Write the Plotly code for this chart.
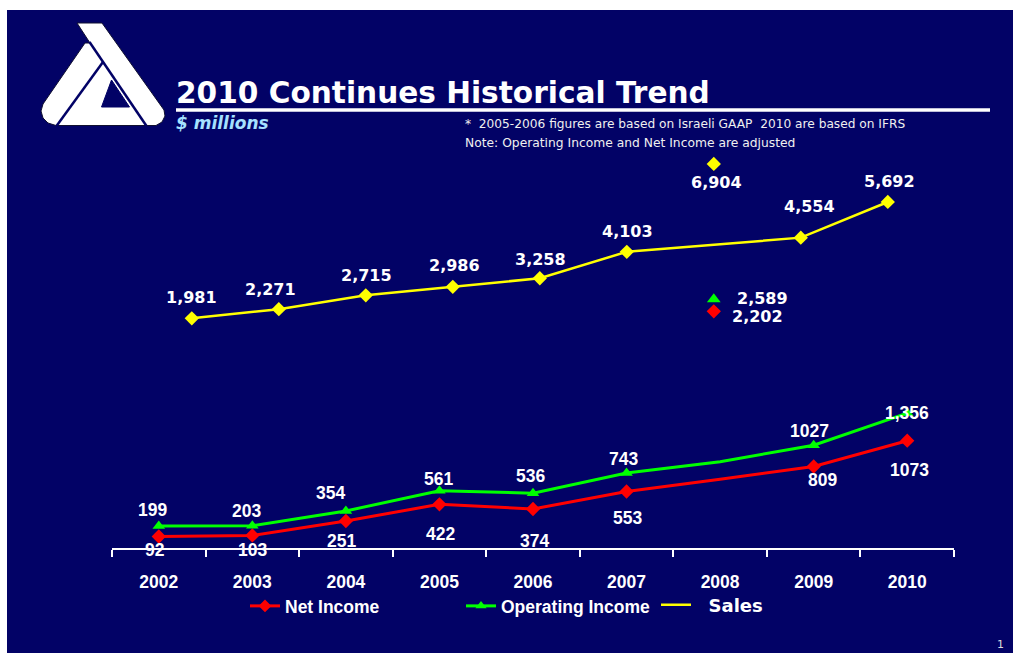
import plotly.graph_objects as go

W, H = 1013, 653

# ---------------- data ----------------
years = [2002, 2003, 2004, 2005, 2006, 2007, 2008, 2009, 2010]
year_labels = ["2002", "2003", "2004", "2005", "2006", "2007", "2008", "2009", "2010"]
sales = [1981, 2271, 2715, 2986, 3258, 4103, None, 4554, 5692]
operating_income = [199, 203, 354, 561, 536, 743, 858, 1027, 1356]
net_income = [92, 103, 251, 422, 374, 553, 678, 809, 1073]

# 2008 reported figures shown as standalone points (sales scale)
year_2008 = [2008]
sales_2008 = [6904]
operating_income_2008 = [2589]
net_income_2008 = [2202]

sales_labels = ["1,981", "2,271", "2,715", "2,986", "3,258", "4,103", "", "4,554", "5,692"]
op_labels = ["199", "203", "354", "561", "536", "743", "", "1027", "1,356"]
net_labels = ["92", "103", "251", "422", "374", "553", "", "809", "1073"]
sales_2008_labels = ["6,904"]
op_2008_labels = ["2,589"]
net_2008_labels = ["2,202"]

# ---------------- styles ----------------
NAVY = "#020266"
YELLOW = "#FFFF00"
GREEN = "#00FF00"
RED = "#FF0000"
NARROW = "Liberation Sans Narrow, Arial Narrow, Liberation Sans, Arial, sans-serif"
WIDE = "DejaVu Sans, Verdana, sans-serif"
NARROW_SIZE = 17.5

# label offsets (px) relative to their point: (dx, dy up)
sales_shift = [(0, 21), (-8, 20), (1, 20), (2, 21), (1, 19), (1, 20), (0, 0), (9, 31), (2, 20)]
op_shift = [(-6, 16), (-6, 15), (-15, 18), (-1, 12), (-3, 17), (-3, 14), (0, 0), (-4, 14), (0, 0)]
net_shift = [(-4, -13), (0, -15), (-4, -20), (1, -30), (1, -32), (1, -26), (0, 0), (9, -13), (2, -29)]
hidden_year = 2008
inc_marker_size = [0 if y == hidden_year else 11 for y in years]


def px(x):
    return x / W


def py(y):
    return 1 - y / H


# axis geometry (pixels)
X_LEFT, X_RIGHT = 112, 954
Y_TOP, Y_BOT = 150, 548
x_dom = [px(X_LEFT), px(X_RIGHT)]
y_dom = [py(Y_BOT), py(Y_TOP)]

fig = go.Figure()

# income series (primary axes)
fig.add_trace(go.Scatter(
    x=years, y=net_income, name="Net Income", mode="lines+markers",
    line=dict(color=RED, width=3),
    marker=dict(symbol="diamond", size=inc_marker_size, color=RED, opacity=1, line=dict(width=0)),
    xaxis="x", yaxis="y", legend="legend", hoverinfo="x+y"))
fig.add_trace(go.Scatter(
    x=years, y=operating_income, name="Operating Income", mode="lines+markers",
    line=dict(color=GREEN, width=3),
    marker=dict(symbol="triangle-up", size=inc_marker_size, color=GREEN, opacity=1, line=dict(width=0)),
    xaxis="x", yaxis="y", legend="legend2", hoverinfo="x+y"))

# sales series (secondary axes)
fig.add_trace(go.Scatter(
    x=years, y=sales, name="<span style='font-family:DejaVu Sans'>&nbsp;&nbsp;Sales</span>", mode="lines",
    connectgaps=True, line=dict(color=YELLOW, width=2.5),
    xaxis="x2", yaxis="y2", legend="legend3", hoverinfo="x+y"))
fig.add_trace(go.Scatter(
    x=years, y=sales, mode="markers", showlegend=False,
    marker=dict(symbol="diamond", size=11, color=YELLOW, line=dict(width=0)),
    xaxis="x2", yaxis="y2", hoverinfo="x+y"))
fig.add_trace(go.Scatter(
    x=year_2008, y=sales_2008, mode="markers", showlegend=False,
    marker=dict(symbol="diamond", size=11, color=YELLOW, line=dict(width=0)), xaxis="x2", yaxis="y2"))
fig.add_trace(go.Scatter(
    x=year_2008, y=operating_income_2008, mode="markers", showlegend=False,
    marker=dict(symbol="triangle-up", size=12, color=GREEN, line=dict(width=0)), xaxis="x2", yaxis="y2"))
fig.add_trace(go.Scatter(
    x=year_2008, y=net_income_2008, mode="markers", showlegend=False,
    marker=dict(symbol="diamond", size=11, color=RED, line=dict(width=0)), xaxis="x2", yaxis="y2"))

annotations = []


def lab(x, y, text, dx, dy, xref, yref, font):
    annotations.append(dict(x=x, y=y, xref=xref, yref=yref, text=text, showarrow=False,
                            xshift=dx, yshift=dy, xanchor="center", yanchor="middle", font=font))


sales_font = dict(family=WIDE, size=16, color="white", weight="bold")
inc_font = dict(family=NARROW, size=NARROW_SIZE, color="white", weight="bold")

for x, v, t, (dx, dy) in zip(years, sales, sales_labels, sales_shift):
    if v is not None and t:
        lab(x, v, t, dx, dy, "x2", "y2", sales_font)
for x, v, t, (dx, dy) in zip(years, operating_income, op_labels, op_shift):
    if t:
        lab(x, v, t, dx, dy, "x", "y", inc_font)
for x, v, t, (dx, dy) in zip(years, net_income, net_labels, net_shift):
    if t:
        lab(x, v, t, dx, dy, "x", "y", inc_font)
lab(year_2008[0], sales_2008[0], sales_2008_labels[0], 3, -19, "x2", "y2", sales_font)
lab(year_2008[0], operating_income_2008[0], op_2008_labels[0], 49, 1, "x2", "y2", sales_font)
lab(year_2008[0], net_income_2008[0], net_2008_labels[0], 44, -5, "x2", "y2", sales_font)

# slide texts
annotations += [
    dict(x=px(174), y=py(93), xref="paper", yref="paper", text="<b>2010 Continues Historical Trend</b>",
         showarrow=False, xanchor="left", yanchor="middle", font=dict(family=WIDE, size=29.6, color="white")),
    dict(x=px(174), y=py(123), xref="paper", yref="paper", text="<b><i>$ millions</i></b>",
         showarrow=False, xanchor="left", yanchor="middle", font=dict(family=WIDE, size=17, color="#a6e1ff")),
    dict(x=px(463), y=py(124), xref="paper", yref="paper",
         text="*  2005-2006 figures are based on Israeli GAAP  2010 are based on IFRS",
         showarrow=False, xanchor="left", yanchor="middle", font=dict(family=WIDE, size=12.2, color="#f0f0f0")),
    dict(x=px(463), y=py(143), xref="paper", yref="paper",
         text="Note: Operating Income and Net Income are adjusted",
         showarrow=False, xanchor="left", yanchor="middle", font=dict(family=WIDE, size=12.3, color="#f0f0f0")),
    dict(x=px(1000), y=py(644), xref="paper", yref="paper", text="1",
         showarrow=False, xanchor="center", yanchor="middle", font=dict(family=WIDE, size=11, color="#dddddd")),
]


def path(points):
    return "M " + " L ".join(f"{px(a)},{py(b)}" for a, b in points) + " Z"


logo_outline = [(77, 23), (102, 23), (164, 110), (165, 116), (162, 122), (156, 125.5),
                (56, 125.5), (48, 123), (43, 118), (41, 111), (43, 104), (85, 43), (90, 43)]
logo_hole = [(111.5, 80), (101.5, 107), (129.5, 107)]

shapes = [
    dict(type="rect", xref="paper", yref="paper", x0=px(7), x1=1, y0=0, y1=py(10),
         fillcolor=NAVY, line=dict(width=0), layer="below"),
    dict(type="line", xref="paper", yref="paper", x0=px(176), x1=px(990), y0=py(110), y1=py(110),
         line=dict(color="white", width=3.5)),
    dict(type="path", xref="paper", yref="paper", path=path(logo_outline),
         fillcolor="white", line=dict(color="#101030", width=1)),
    dict(type="line", xref="paper", yref="paper", x0=px(89.5), y0=py(42), x1=px(146.5), y1=py(126),
         line=dict(color=NAVY, width=2.5)),
    dict(type="line", xref="paper", yref="paper", x0=px(103), y0=py(62), x1=px(56.5), y1=py(126),
         line=dict(color=NAVY, width=2.5)),
    dict(type="path", xref="paper", yref="paper", path=path(logo_hole),
         fillcolor=NAVY, line=dict(color=NAVY, width=1)),
]

# axes ranges derived from pixel geometry
inc_per_px = 10.24
inc_zero_px = 545.5
sales_per_px = 31.9
sales_zero_px = 380.4
s_px_per_year = 87.0
s_2002_px = 191.8

legend_common = dict(orientation="h", bgcolor="rgba(0,0,0,0)", borderwidth=0,
                     xanchor="left", yanchor="middle", itemwidth=30, itemclick=False)

fig.update_layout(
    width=W, height=H,
    margin=dict(l=0, r=0, t=0, b=0),
    paper_bgcolor="white", plot_bgcolor="rgba(0,0,0,0)",
    showlegend=True,
    xaxis=dict(domain=x_dom, range=[2001.5, 2010.5], anchor="y",
               tickmode="array", tickvals=years, ticktext=year_labels, ticks="",
               tickfont=dict(family=NARROW, size=NARROW_SIZE, color="white", weight="bold"),
               ticklabelstandoff=17,
               showline=True, linecolor="white", linewidth=1.5, showgrid=False, zeroline=False,
               minor=dict(tickmode="array", tickvals=[y - 0.5 for y in years] + [years[-1] + 0.5],
                          ticks="outside", ticklen=7, tickwidth=1.5, tickcolor="white", showgrid=False)),
    yaxis=dict(domain=y_dom, anchor="x",
               range=[-(Y_BOT - inc_zero_px) * inc_per_px, (inc_zero_px - Y_TOP) * inc_per_px],
               showgrid=False, zeroline=False, showticklabels=False, showline=False, ticks=""),
    xaxis2=dict(domain=x_dom, overlaying="x", anchor="y2",
                range=[2002 - (s_2002_px - X_LEFT) / s_px_per_year,
                       2002 + (X_RIGHT - s_2002_px) / s_px_per_year],
                visible=False),
    yaxis2=dict(domain=y_dom, overlaying="y", anchor="x2",
                range=[-(Y_BOT - sales_zero_px) * sales_per_px, (sales_zero_px - Y_TOP) * sales_per_px],
                visible=False),
    legend=dict(x=px(245), y=py(606), font=dict(family=NARROW, size=NARROW_SIZE, color="white", weight="bold"),
                **legend_common),
    legend2=dict(x=px(461), y=py(606), font=dict(family=NARROW, size=NARROW_SIZE, color="white", weight="bold"),
                 **legend_common),
    legend3=dict(x=px(656), y=py(605), font=dict(family=WIDE, size=18, color="white", weight="bold"),
                 **legend_common),
    annotations=annotations,
    shapes=shapes,
)

fig.write_html("out.html", config={"displayModeBar": False},
               post_script="document.body.style.margin='0';document.body.style.overflow='hidden';")
